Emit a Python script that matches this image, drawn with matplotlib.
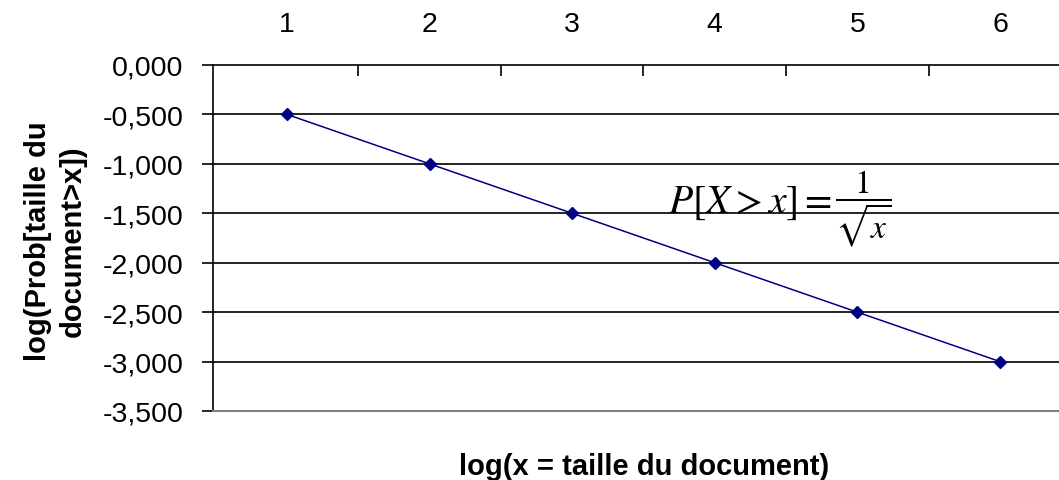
import matplotlib
matplotlib.use('Agg')
import matplotlib.pyplot as plt
from matplotlib.ticker import FixedLocator, FuncFormatter

plt.rcParams['font.family'] = ['Liberation Sans', 'DejaVu Sans']
plt.rcParams['mathtext.fontset'] = 'stix'

# taille du document (log) vs log de la probabilite
log_x = [1, 2, 3, 4, 5, 6]
log_p = [-0.5, -1.0, -1.5, -2.0, -2.5, -3.0]
y_ticks = [0.0, -0.5, -1.0, -1.5, -2.0, -2.5, -3.0, -3.5]

W, H = 1059, 481
fig = plt.figure(figsize=(W / 100, H / 100), dpi=100)
ax = fig.add_axes([213 / W, 1 - 412 / H, 1 - 213 / W, (412 - 66) / H])

navy = '#000080'
ax.plot(log_x, log_p, color=navy, lw=1.1, marker='D', ms=6.5,
        mfc=navy, mec=navy, zorder=3)

ax.set_ylim(-3.5, 0)
ax.set_xlim(0.481, 6.414)

# y axis: french decimal comma
ax.yaxis.set_major_locator(FixedLocator(y_ticks))
ax.yaxis.set_major_formatter(FuncFormatter(lambda v, p: f'{v:.3f}'.replace('.', ',')))
ax.tick_params(axis='y', direction='out', length=8, width=1.2, labelsize=20.5, pad=13.5)
for v in y_ticks[1:-1]:
    ax.axhline(v, color='black', lw=1.2, zorder=1)

# x axis labels on top, tick marks between categories
ax.xaxis.tick_top()
ax.xaxis.set_major_locator(FixedLocator(log_x))
ax.xaxis.set_minor_locator(FixedLocator([1.5, 2.5, 3.5, 4.5, 5.5]))
ax.tick_params(axis='x', which='major', length=0, labelsize=20.5, pad=20)
ax.tick_params(axis='x', which='minor', direction='in', length=8, width=1.2)

ax.spines['right'].set_visible(False)
ax.spines['top'].set_linewidth(1.2)
ax.spines['left'].set_linewidth(1.2)
ax.spines['bottom'].set_color('#808080')
ax.spines['bottom'].set_linewidth(1.5)

fig.text(644 / W, 1 - 467 / H, 'log(x = taille du document)', fontsize=21,
         fontweight='bold', ha='center', va='center')
fig.text(55 / W, 1 - 241 / H, 'log(Prob[taille du\ndocument>x])', fontsize=21,
         fontweight='bold', rotation=90, ha='center', va='center',
         linespacing=1.3)

# formula: left part and fraction drawn separately
fig.text(668 / W, 1 - 213 / H, r'$P[X>x]=$', fontsize=28.5,
         ha='left', va='baseline')
fig.text(863 / W, 1 - 206 / H, r'$\dfrac{1}{\sqrt{x}}$', fontsize=24,
         ha='center', va='baseline')

fig.savefig('out.png', dpi=100)
